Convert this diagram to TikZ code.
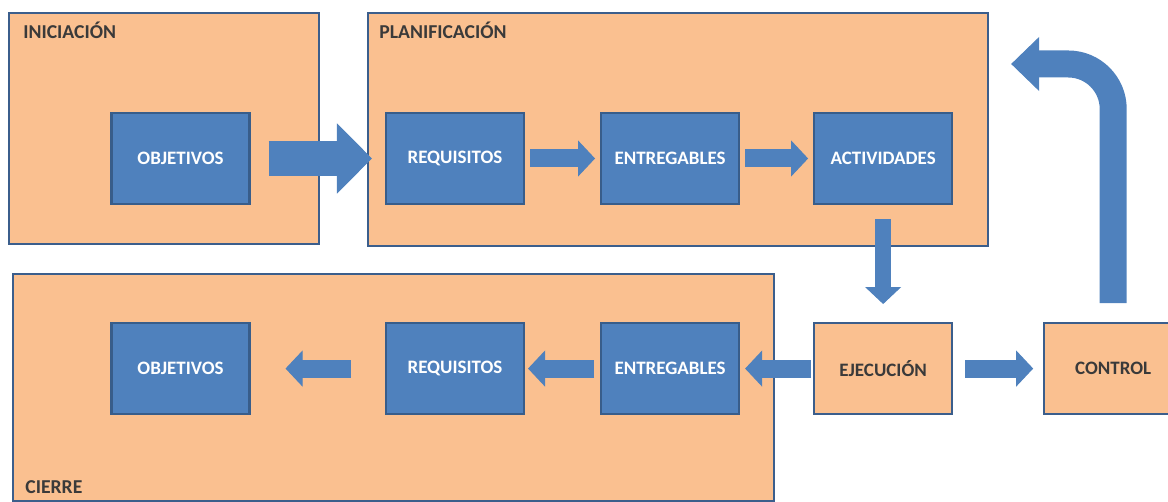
\documentclass[tikz,border=0pt]{standalone}
\usepackage{fontspec}
\setmainfont{Carlito}
\usetikzlibrary{arrows.meta,positioning,calc}

\definecolor{phasefill}{HTML}{FAC090}
\definecolor{phaseedge}{HTML}{3B5E8C}
\definecolor{taskfill}{HTML}{4F81BD}
\definecolor{taskedge}{HTML}{385D8A}
\definecolor{labeltext}{HTML}{3A3A3A}

\begin{document}
\begin{tikzpicture}[
    x=0.02cm, y=-0.02cm,
    phasebox/.style={draw=phaseedge, fill=phasefill, line width=1.3pt, anchor=north west, inner sep=0pt},
    taskbox/.style={draw=taskedge, fill=taskfill, line width=1.2pt, minimum width=2.76cm, minimum height=1.82cm,
        text=white, font=\bfseries\fontsize{10.8}{13}\selectfont},
    statebox/.style={taskbox, draw=phaseedge, fill=phasefill, text=labeltext},
    phaselabel/.style={anchor=west, inner sep=0pt, text=labeltext, font=\bfseries\fontsize{11.2}{13}\selectfont},
    flowarrow/.style={taskfill, line width=0.36cm, -{Triangle[width=0.72cm, length=0.34cm, line width=0.6pt]}},
    bigarrow/.style={taskfill, line width=0.7cm, -{Triangle[width=1.4cm, length=0.7cm, line width=0.6pt]}},
    returnarrow/.style={taskfill, line width=0.54cm, rounded corners=0.9cm, -{Triangle[width=1.08cm, length=0.56cm, line width=0.6pt]}}
]
\useasboundingbox (0,0) rectangle (1168,502);

% fases
\node[phasebox, minimum width=6.2cm, minimum height=4.62cm] (ini) at (8,12) {};
\node[phasebox, minimum width=12.4cm, minimum height=4.66cm] (plan) at (367,12) {};
\node[phasebox, minimum width=15.22cm, minimum height=4.54cm] (cierre) at (12,273) {};

\node[phaselabel] (inilab) at (23,30) {INICIACIÓN};
\node[phaselabel] (planlab) at (379,30) {PLANIFICACIÓN};
\node[phaselabel] (cierrelab) at (25,487) {CIERRE};

% fila superior
\node[taskbox] (obj1) at (180.5,158.5) {OBJETIVOS};
\node[taskbox] (req1) at (455,158.5) {REQUISITOS};
\node[taskbox, right=1.5cm of req1] (ent1) {ENTREGABLES};
\node[taskbox, right=1.46cm of ent1] (act) {ACTIVIDADES};

% fila inferior
\node[statebox, below=2.34cm of act] (eje) {EJECUCIÓN};
\node[statebox, right=1.8cm of eje] (ctl) {CONTROL};
\node[taskbox, below=2.34cm of ent1] (ent2) {ENTREGABLES};
\node[taskbox, below=2.34cm of req1] (req2) {REQUISITOS};
\node[taskbox, below=2.34cm of obj1] (obj2) {OBJETIVOS};

\coordinate (ret) at ($(plan.north east)+(0.44cm,-1.04cm)$);

% flechas
\draw[bigarrow] ([xshift=0.36cm]obj1.east) -- ([xshift=-0.26cm]req1.west);
\draw[flowarrow] ([xshift=0.1cm]req1.east) -- ([xshift=-0.1cm]ent1.west);
\draw[flowarrow] ([xshift=0.1cm]ent1.east) -- ([xshift=-0.1cm]act.west);
\draw[flowarrow, line width=0.32cm] ([yshift=-0.28cm]act.south) -- ([yshift=0.36cm]eje.north);
\draw[flowarrow] ([xshift=0.24cm]eje.east) -- ([xshift=-0.2cm]ctl.west);
\draw[returnarrow] ([yshift=0.38cm]ctl.north) |- (ret);
\draw[flowarrow] ([xshift=-0.04cm]eje.west) -- ([xshift=0.1cm]ent2.east);
\draw[flowarrow] ([xshift=-0.12cm]ent2.west) -- ([xshift=0.06cm]req2.east);
\draw[flowarrow] ([xshift=-0.68cm]req2.west) -- ([xshift=0.7cm]obj2.east);

\end{tikzpicture}
\end{document}
